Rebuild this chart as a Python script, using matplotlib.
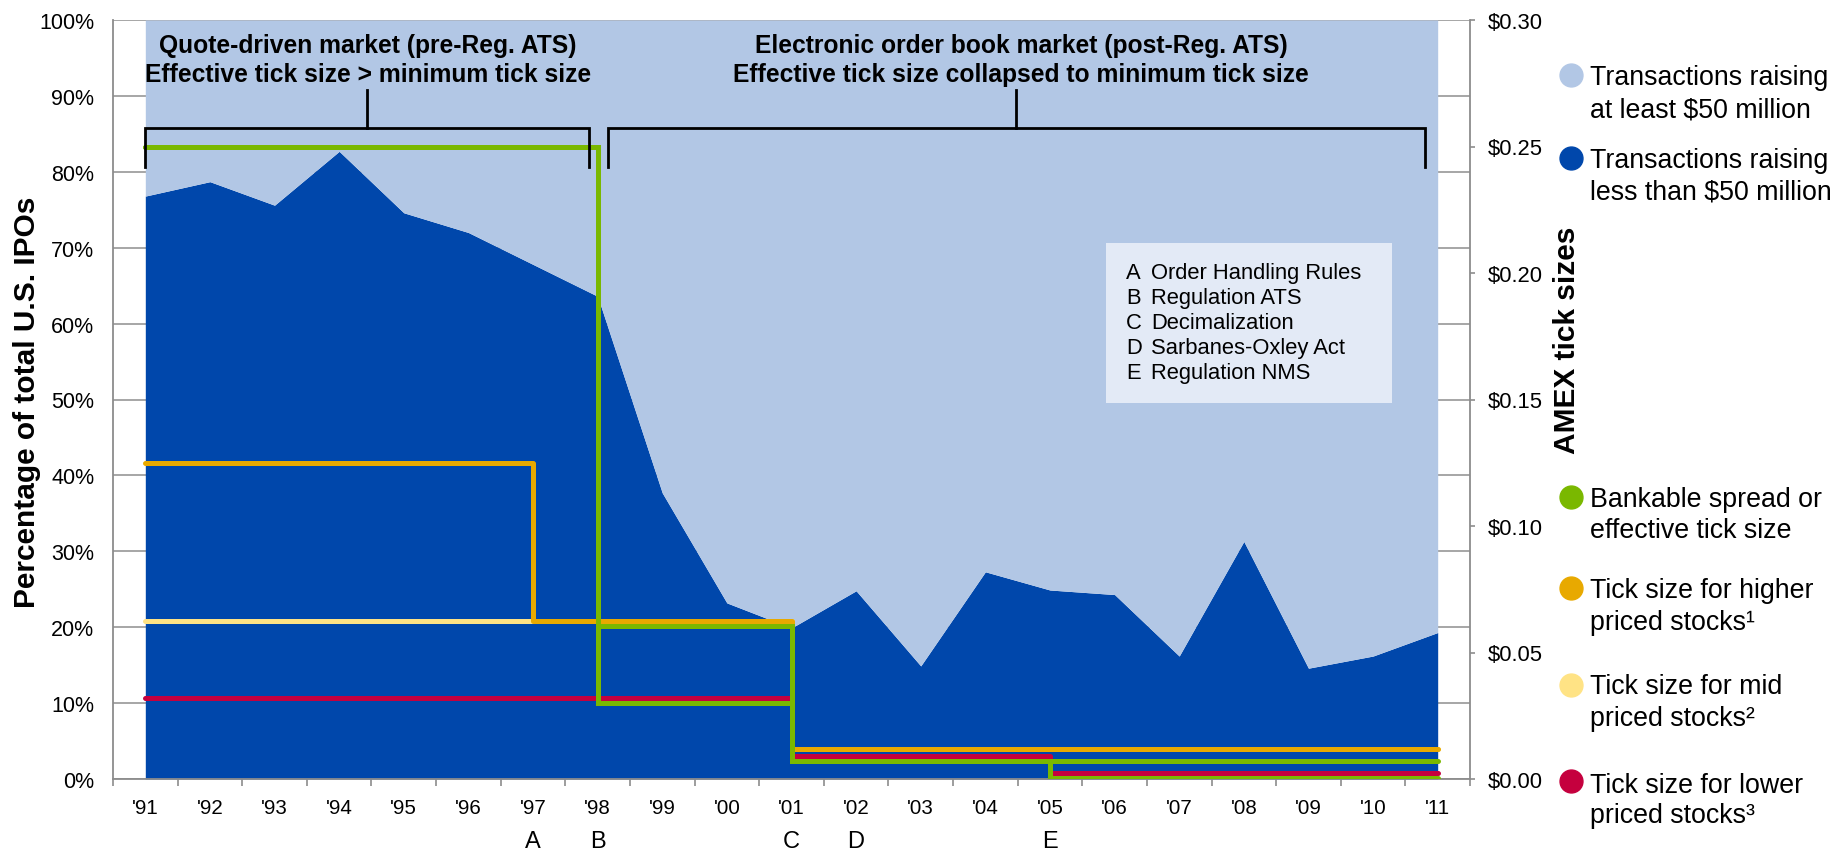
import matplotlib
matplotlib.use("Agg")
import matplotlib.pyplot as plt
from matplotlib.lines import Line2D
from matplotlib.patches import Rectangle
from matplotlib.transforms import blended_transform_factory

plt.rcParams['font.family'] = ['Liberation Sans', 'DejaVu Sans']

# ---- data -------------------------------------------------------------
years = ["'91", "'92", "'93", "'94", "'95", "'96", "'97", "'98", "'99", "'00",
         "'01", "'02", "'03", "'04", "'05", "'06", "'07", "'08", "'09", "'10", "'11"]

# share of U.S. IPOs raising less than $50 million (%)
small_ipo_share = [76.8, 78.7, 75.6, 82.7, 74.6, 72.0, 67.8, 63.6, 37.7, 23.2,
                   19.9, 24.8, 14.9, 27.3, 24.9, 24.3, 16.2, 31.3, 14.6, 16.2, 19.3]

# AMEX tick sizes in $, value in force from each year until the next
bankable_upper = [0.250, 0.250, 0.250, 0.250, 0.250, 0.250, 0.250, 0.0606, 0.0606, 0.0606,
                  0.0070, 0.0070, 0.0070, 0.0070, 0.0070, 0.0070, 0.0070, 0.0070, 0.0070, 0.0070, 0.0070]
bankable_lower = [0.250, 0.250, 0.250, 0.250, 0.250, 0.250, 0.250, 0.0300, 0.0300, 0.0300,
                  0.0070, 0.0070, 0.0070, 0.0070, 0.0003, 0.0003, 0.0003, 0.0003, 0.0003, 0.0003, 0.0003]
tick_high = [0.125, 0.125, 0.125, 0.125, 0.125, 0.125, 0.0625, 0.0625, 0.0625, 0.0625,
             0.0119, 0.0119, 0.0119, 0.0119, 0.0119, 0.0119, 0.0119, 0.0119, 0.0119, 0.0119, 0.0119]
tick_mid = [0.0625, 0.0625, 0.0625, 0.0625, 0.0625, 0.0625, 0.0625, 0.0625, 0.0625, 0.0625,
            0.0119, 0.0119, 0.0119, 0.0119, 0.0119, 0.0119, 0.0119, 0.0119, 0.0119, 0.0119, 0.0119]
tick_low = [0.0322, 0.0322, 0.0322, 0.0322, 0.0322, 0.0322, 0.0322, 0.0322, 0.0322, 0.0322,
            0.0092, 0.0092, 0.0092, 0.0092, 0.0022, 0.0022, 0.0022, 0.0022, 0.0022, 0.0022, 0.0022]

event_letters = ["A", "B", "C", "D", "E"]
event_years = ["'97", "'98", "'01", "'02", "'05"]
event_names = ["Order Handling Rules", "Regulation ATS", "Decimalization",
               "Sarbanes-Oxley Act", "Regulation NMS"]

pct_ticks = [0, 10, 20, 30, 40, 50, 60, 70, 80, 90, 100]
usd_ticks = [0.00, 0.05, 0.10, 0.15, 0.20, 0.25, 0.30]

# ---- style ------------------------------------------------------------
DARK = '#0047AB'
LIGHT = '#B2C7E5'
GREEN = '#7AB800'
ORANGE = '#E8A900'
YELLOW = '#FFE385'
RED = '#C5003E'
BOX = '#E3EAF6'
AXIS = '#8c8c8c'
GRID = '#a6a6a6'

W, H = 1839, 853
fig = plt.figure(figsize=(W / 100, H / 100), dpi=100)
ax = fig.add_axes([113 / W, 1 - 780 / H, (1470 - 113) / W, (780 - 21) / H])

x = list(range(len(years)))

# stacked share areas
ax.fill_between(x, 0, small_ipo_share, color=DARK, lw=0, zorder=1)
ax.fill_between(x, small_ipo_share, 100, color=LIGHT, lw=0, zorder=1)

ax.set_xlim(-0.5, len(years) - 0.5)
ax.set_ylim(0, 100)
ax.set_yticks(pct_ticks)
ax.set_yticklabels([f"{v}%" for v in pct_ticks], fontsize=15.5)
ax.tick_params(axis='y', length=0, pad=13.5, colors='black')
ax.yaxis.grid(True, color=GRID, lw=1.4)
ax.set_axisbelow(True)

ax.set_xticks(x)
ax.set_xticklabels(years, fontsize=14.8)
ax.set_xticks([v - 0.5 for v in x] + [x[-1] + 0.5], minor=True)
ax.tick_params(axis='x', which='major', length=0, pad=14)
ax.tick_params(axis='x', which='minor', length=5, width=1.2, color=AXIS, direction='out')

for s in ['top', 'right']:
    ax.spines[s].set_visible(False)
for s in ['left', 'bottom']:
    ax.spines[s].set_color(AXIS)
    ax.spines[s].set_linewidth(1.3)
ax.spines['bottom'].set_zorder(2.5)

# event letters under the year labels
lt = blended_transform_factory(ax.transData, fig.transFigure)
for letter, yr in zip(event_letters, event_years):
    ax.text(years.index(yr), 1 - 842 / H, letter, transform=lt, ha='center', va='center',
            fontsize=17, clip_on=False)

# regime headings
heads = [(3.45, "Quote-driven market (pre-Reg. ATS)", "Effective tick size > minimum tick size"),
         (13.55, "Electronic order book market (post-Reg. ATS)",
          "Effective tick size collapsed to minimum tick size")]
ht = blended_transform_factory(ax.transData, fig.transFigure)
for cx, l1, l2 in heads:
    ax.text(cx, 1 - 53 / H, l1, transform=ht, ha='center', va='baseline',
            fontsize=17.7, fontweight='bold', zorder=6)
    ax.text(cx, 1 - 82 / H, l2, transform=ht, ha='center', va='baseline',
            fontsize=17.7, fontweight='bold', zorder=6)

# event key box
ax.add_patch(Rectangle((14.86, 49.5), 19.30 - 14.86, 70.6 - 49.5, facecolor=BOX,
                       edgecolor='none', zorder=3))
for i, (letter, name) in enumerate(zip(event_letters, event_names)):
    yy = 66.7 - i * 3.3
    ax.text(15.18, yy, letter, fontsize=15.8, va='center', ha='left', zorder=4)
    ax.text(15.56, yy, name, fontsize=15.8, va='center', ha='left', zorder=4)

# ---- tick-size axis ---------------------------------------------------
ax2 = ax.twinx()
ax2.set_ylim(0, 0.30)
ax2.set_yticks(usd_ticks)
ax2.set_yticklabels([f"\\${v:.2f}" for v in usd_ticks], fontsize=15.8)
ax2.tick_params(axis='y', length=3.6, width=1.2, color=AXIS, pad=9.4)
for s in ['top', 'left', 'bottom']:
    ax2.spines[s].set_visible(False)
ax2.spines['right'].set_color(AXIS)
ax2.spines['right'].set_linewidth(1.3)

lw = 3.6
ax2.step(x, tick_mid, where='post', color=YELLOW, lw=lw, solid_capstyle='round', zorder=2)
ax2.step(x, tick_low, where='post', color=RED, lw=lw, solid_capstyle='round', zorder=3)
ax2.step(x, tick_high, where='post', color=ORANGE, lw=lw, solid_capstyle='round', zorder=4)
ax2.step(x, bankable_lower, where='post', color=GREEN, lw=lw, solid_capstyle='round',
         solid_joinstyle='miter', zorder=5)
ax2.step(x, bankable_upper, where='post', color=GREEN, lw=lw, solid_capstyle='round',
         solid_joinstyle='miter', zorder=5)

# brackets over the two regimes (drawn in share-axis coordinates)
for x0, x1, xc in [(0.0, 6.87, 3.43), (7.16, 19.8, 13.47)]:
    ax2.plot([x0, x0, x1, x1], [80.6, 85.8, 85.8, 80.6], color='black', lw=2,
             transform=ax.transData, zorder=7, solid_joinstyle='miter')
    ax2.plot([xc, xc], [85.8, 90.8], color='black', lw=2, transform=ax.transData, zorder=7)

# axis titles
fig.text(27 / W, 1 - 402 / H, "Percentage of total U.S. IPOs", rotation=90,
         ha='center', va='center', fontsize=21.5, fontweight='bold')
fig.text(1567 / W, 1 - 340 / H, "AMEX tick sizes", rotation=90,
         ha='center', va='center', fontsize=21.5, fontweight='bold')

# legend down the right-hand side
legend_items = [
    (LIGHT, 76, ["Transactions raising", "at least \\$50 million"], [85, 117]),
    (DARK, 159, ["Transactions raising", "less than \\$50 million"], [168, 200]),
    (GREEN, 498, ["Bankable spread or", "effective tick size"], [507, 538]),
    (ORANGE, 589, ["Tick size for higher", "priced stocks\u00b9"], [598, 630]),
    (YELLOW, 686, ["Tick size for mid", "priced stocks\u00b2"], [694, 726]),
    (RED, 782, ["Tick size for lower", "priced stocks\u00b3"], [793, 823]),
]
for color, my, lines, baselines in legend_items:
    fig.add_artist(Line2D([1571 / W], [1 - my / H], marker='o', markersize=16.5,
                          color=color, lw=0, transform=fig.transFigure))
    for txt, by in zip(lines, baselines):
        fig.text(1590 / W, 1 - by / H, txt, ha='left', va='baseline', fontsize=19.3)

fig.savefig("out.png", dpi=100)
